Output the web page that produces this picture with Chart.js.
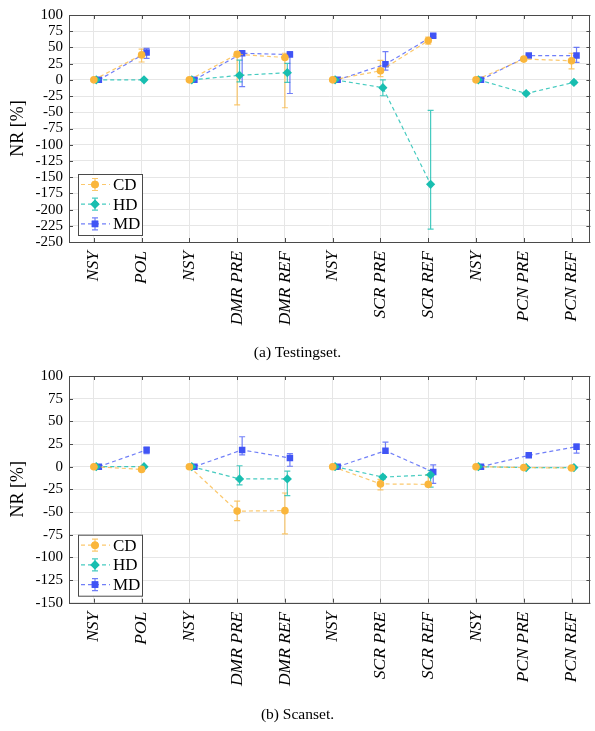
<!DOCTYPE html>
<html><head><meta charset="utf-8">
<script src="https://cdn.jsdelivr.net/npm/chart.js@4.4.0/dist/chart.umd.min.js"></script>
<style>
html,body{margin:0;padding:0;background:#fff;width:595px;height:731px;overflow:hidden;}
canvas{position:absolute;left:0;}
.cap{position:absolute;left:0;width:595px;text-align:center;font-family:'Liberation Serif',serif;font-size:15.5px;color:#000;line-height:18px;}
</style></head><body>
<canvas id="c1" width="595" height="345" style="top:0"></canvas>
<div class="cap" style="top:343px">(a) Testingset.</div>
<canvas id="c2" width="595" height="345" style="top:360px"></canvas>
<div class="cap" style="top:705px">(b) Scanset.</div>
<script>
const categories = ['NSY','POL','NSY','DMR PRE','DMR REF','NSY','SCR PRE','SCR REF','NSY','PCN PRE','PCN REF'];
const breakAfter = [1, 4, 7];
const seriesNames = ['CD', 'HD', 'MD'];

// (a) Testingset
const testCD   = [0, 38.5, 0, 39.5, 34.5, 0, 14, 60.5, 0, 32, 29.5];
const testCDhi = [0, 47.5, 0, 43, 41, 0, 30, 66, 0, 34, 41];
const testCDlo = [0, 27.5, 0, -38.5, -43, 0, 5, 55, 0, 30, 17];
const testHD   = [0, 0, 0, 7, 11, 0, -12, -161, 0, -21, -4];
const testHDhi = [0, 1, 0, 30.5, 25.5, 0, 0, -47, 0, -19, -2];
const testHDlo = [0, -1, 0, -3, -4, 0, -24.5, -230, 0, -23, -6];
const testMD   = [0, 42, 0, 41, 39, 0, 24, 68, 0, 37.5, 37.5];
const testMDhi = [0, 48.5, 0, 43.5, 43.5, 0, 43.5, 70, 0, 38.5, 50];
const testMDlo = [0, 33, 0, -10.5, -21, 0, 15, 66, 0, 36.5, 27];

// (b) Scanset
const scanCD   = [0, -3, 0, -49, -48.5, 0, -19, -19.5, 0, -1, -1.5];
const scanCDhi = [0, -2, 0, -38, -29, 0, -14, -9, 0, -0.5, -1];
const scanCDlo = [0, -4, 0, -59.5, -74, 0, -25.5, -22, 0, -1.5, -2];
const scanHD   = [0, 0, 0, -13.5, -13.5, 0, -11.5, -9, 0, -1, -1];
const scanHDhi = [0, 1, 0, 1, -5, 0, -9.5, -4, 0, -0.5, -0.5];
const scanHDlo = [0, -1, 0, -20, -32, 0, -13.5, -22.5, 0, -1.5, -1.5];
const scanMD   = [0, 18.5, 0, 18.5, 9.5, 0, 17.5, -6, 0, 12.5, 22];
const scanMDhi = [0, 21.5, 0, 33, 14.5, 0, 27, 2, 0, 13.5, 25];
const scanMDlo = [0, 14.5, 0, 13, 0.5, 0, 15, -18.5, 0, 11.5, 15];

const testTicks = [100, 75, 50, 25, 0, -25, -50, -75, -100, -125, -150, -175, -200, -225, -250];
const scanTicks = [100, 75, 50, 25, 0, -25, -50, -75, -100, -125, -150];

const COLORS = {
  CD: {solid: 'rgb(250,182,60)', soft: 'rgba(250,182,60,0.75)'},
  HD: {solid: 'rgb(24,190,176)', soft: 'rgba(24,190,176,0.8)'},
  MD: {solid: 'rgb(64,84,245)', soft: 'rgba(64,84,245,0.75)'}
};
const STYLE = {
  CD: {pointStyle: 'circle', radius: 3.8, dx: 0},
  HD: {pointStyle: 'rectRot', radius: 4.6, dx: 2.4},
  MD: {pointStyle: 'rect', radius: 4.6, dx: 5}
};
const SERIF = "'Liberation Serif', 'Times New Roman', serif";
const AXIS = '#4a4a4a';

function drawErr(ctx, x, yHi, yLo, color) {
  ctx.save();
  ctx.strokeStyle = color; ctx.lineWidth = 1.2; ctx.setLineDash([]);
  ctx.beginPath();
  ctx.moveTo(x, yHi); ctx.lineTo(x, yLo);
  ctx.moveTo(x - 3, yHi); ctx.lineTo(x + 3, yHi);
  ctx.moveTo(x - 3, yLo); ctx.lineTo(x + 3, yLo);
  ctx.stroke();
  ctx.restore();
}

const decor = {
  id: 'decor',
  afterDatasetsUpdate(chart) {
    chart.data.datasets.forEach((ds, di) => {
      const meta = chart.getDatasetMeta(di);
      meta.data.forEach(pt => { pt.x += ds.dx; });
    });
  },
  beforeDatasetsDraw(chart) {
    const ctx = chart.ctx, ys = chart.scales.y, ca = chart.chartArea;
    ctx.save();
    ctx.beginPath(); ctx.rect(ca.left, ca.top, ca.right - ca.left, ca.bottom - ca.top); ctx.clip();
    chart.data.datasets.forEach((ds, di) => {
      const meta = chart.getDatasetMeta(di);
      meta.data.forEach((pt, i) => {
        const hi = ds.errHi[i], lo = ds.errLo[i];
        if (hi === lo) return;
        drawErr(ctx, pt.x, ys.getPixelForValue(hi), ys.getPixelForValue(lo), ds.errColor);
      });
    });
    ctx.restore();
  },
  afterDraw(chart) {
    const ctx = chart.ctx, ca = chart.chartArea, xs = chart.scales.x, ys = chart.scales.y;
    ctx.save();
    ctx.strokeStyle = AXIS; ctx.lineWidth = 1; ctx.setLineDash([]);
    ctx.strokeRect(Math.round(ca.left) + 0.5, Math.round(ca.top) + 0.5, Math.round(ca.right - ca.left) - 1, Math.round(ca.bottom - ca.top));
    ctx.beginPath();
    xs.ticks.forEach(t => {
      const x = Math.round(xs.getPixelForValue(t.value)) + 0.5;
      ctx.moveTo(x, ca.top); ctx.lineTo(x, ca.top + 4);
      ctx.moveTo(x, ca.bottom); ctx.lineTo(x, ca.bottom - 4);
    });
    ys.ticks.forEach(t => {
      const y = Math.round(ys.getPixelForValue(t.value)) + 0.5;
      ctx.moveTo(ca.left, y); ctx.lineTo(ca.left + 4, y);
      ctx.moveTo(ca.right, y); ctx.lineTo(ca.right - 4, y);
    });
    ctx.stroke();
    // legend
    const bl = ca.left + 9, bh = 61, bw = 64, bt = ca.bottom - 7 - bh;
    ctx.fillStyle = '#fff';
    ctx.fillRect(bl, bt, bw, bh);
    ctx.strokeStyle = AXIS;
    ctx.strokeRect(bl + 0.5, bt + 0.5, bw, bh);
    chart.data.datasets.forEach((ds, r) => {
      const y = bt + 10.5 + r * 19.7;
      ctx.save();
      ctx.strokeStyle = ds.borderColor; ctx.lineWidth = 1.2; ctx.setLineDash([4, 3]);
      ctx.beginPath(); ctx.moveTo(bl + 3, y); ctx.lineTo(bl + 32, y); ctx.stroke();
      ctx.restore();
      drawErr(ctx, bl + 17, y - 6, y + 6, ds.errColor);
      ctx.fillStyle = ds.pointBackgroundColor;
      Chart.helpers.drawPoint(ctx, {pointStyle: ds.pointStyle, radius: ds.pointRadius, rotation: 0, borderWidth: 0}, bl + 17, y);
      ctx.fill();
      ctx.fillStyle = '#000';
      ctx.font = "17px " + SERIF;
      ctx.textBaseline = 'middle'; ctx.textAlign = 'left';
      ctx.fillText(ds.label, bl + 35, y + 1);
    });
    ctx.restore();
  }
};

function makeChart(id, vals, his, los, yTicks, padTop, plotBottom) {
  const H = 345;
  const datasets = seriesNames.map((name, k) => ({
    label: name,
    data: vals[k].map((v, i) => ({x: i, y: v})),
    errHi: his[k], errLo: los[k],
    errColor: COLORS[name].soft,
    borderColor: COLORS[name].soft,
    backgroundColor: COLORS[name].solid,
    pointBackgroundColor: COLORS[name].solid,
    pointBorderWidth: 0,
    pointStyle: STYLE[name].pointStyle,
    pointRadius: STYLE[name].radius,
    pointHoverRadius: STYLE[name].radius,
    dx: STYLE[name].dx,
    borderWidth: 1.2,
    borderDash: [4, 3],
    tension: 0,
    fill: false,
    segment: {borderColor: c => breakAfter.includes(c.p0DataIndex) ? 'rgba(0,0,0,0)' : undefined}
  }));
  return new Chart(document.getElementById(id), {
    type: 'line',
    data: {datasets},
    options: {
      responsive: false, animation: false, devicePixelRatio: 1,
      layout: {padding: {top: padTop, right: 1, left: 0, bottom: 0}},
      plugins: {legend: {display: false}, tooltip: {enabled: false}},
      scales: {
        x: {
          type: 'linear', min: -0.52, max: 10.395,
          afterBuildTicks: s => { s.ticks = categories.map((_, i) => ({value: i})); },
          afterFit: s => { s.height = H - plotBottom; s.paddingLeft = 0; s.paddingRight = 0; },
          ticks: {
            callback: v => categories[v], autoSkip: false, minRotation: 90, maxRotation: 90,
            font: {family: SERIF, style: 'italic', size: 17.5}, color: '#000', padding: 9
          },
          grid: {color: '#e6e6e6', drawTicks: false, lineWidth: 1},
          border: {display: false}
        },
        y: {
          min: yTicks[yTicks.length - 1], max: yTicks[0],
          afterBuildTicks: s => { s.ticks = yTicks.map(v => ({value: v})); },
          afterFit: s => { s.width = 69; s.paddingTop = 0; s.paddingBottom = 0; },
          ticks: {font: {family: SERIF, size: 15}, color: '#000', padding: 6, autoSkip: false},
          grid: {color: '#e6e6e6', drawTicks: false, lineWidth: 1},
          border: {display: false},
          title: {display: true, text: 'NR [%]', font: {family: SERIF, size: 18}, color: '#000', padding: {top: 7, bottom: 0}}
        }
      }
    },
    plugins: [decor]
  });
}

makeChart('c1', [testCD, testHD, testMD], [testCDhi, testHDhi, testMDhi], [testCDlo, testHDlo, testMDlo], testTicks, 15, 242);
makeChart('c2', [scanCD, scanHD, scanMD], [scanCDhi, scanHDhi, scanMDhi], [scanCDlo, scanHDlo, scanMDlo], scanTicks, 16, 242.7);
</script>
</body></html>
